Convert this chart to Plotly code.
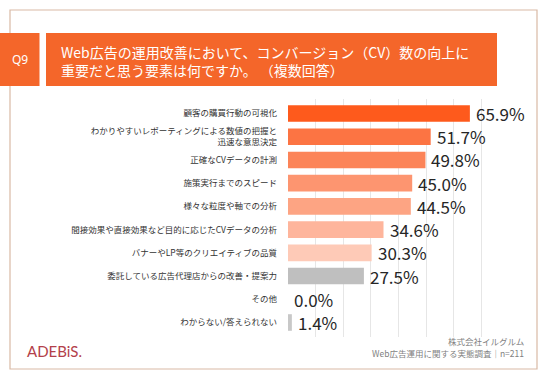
import plotly.graph_objects as go

categories = [
    "顧客の購買行動の可視化",
    "わかりやすいレポーティングによる数値の把握と<br>迅速な意思決定",
    "正確なCVデータの計測",
    "施策実行までのスピード",
    "様々な粒度や軸での分析",
    "間接効果や直接効果など目的に応じたCVデータの分析",
    "バナーやLP等のクリエイティブの品質",
    "委託している広告代理店からの改善・提案力",
    "その他",
    "わからない/答えられない",
]
values = [65.9, 51.7, 49.8, 45.0, 44.5, 34.6, 30.3, 27.5, 0.0, 1.4]
bar_colors = ["#FE5A1C", "#FC7443", "#FC8458", "#FD9570", "#FDA483",
              "#FEB59C", "#FECAB7", "#BFBFBF", "#BFBFBF", "#C8C8C8"]

W, H = 547, 378
L, R, T, B = 288, 52, 99, 41
PW, PH = W - L - R, H - T - B
JP = "Noto Sans CJK JP"


def px(x):
    return (x - L) / PW


def py(y):
    return (H - B - y) / PH


fig = go.Figure()
fig.add_trace(go.Bar(
    x=values, y=categories, orientation="h",
    marker=dict(color=bar_colors, line=dict(width=0)),
    hoverinfo="skip",
))

annotations = []
for c, v in zip(categories, values):
    annotations.append(dict(
        x=v, y=c, xref="x", yref="y", text=f"{v:.1f}%", showarrow=False,
        xanchor="left", yanchor="middle", xshift=4,
        font=dict(family=JP, size=17, color="#262626"),
    ))

shapes = [
    dict(type="rect", xref="paper", yref="paper",
         x0=px(10), x1=px(537), y0=py(369), y1=py(10),
         line=dict(color="#D9B9A5", width=1.2), fillcolor="rgba(0,0,0,0)", layer="below"),
    dict(type="rect", xref="paper", yref="paper",
         x0=px(0), x1=px(39.5), y0=py(86), y1=py(33),
         line=dict(width=0), fillcolor="#F4662A"),
    dict(type="rect", xref="paper", yref="paper",
         x0=px(46), x1=px(497), y0=py(86), y1=py(33),
         line=dict(width=0), fillcolor="#F4662A"),
]

annotations += [
    dict(x=px(20), y=py(60), xref="paper", yref="paper", text="Q9", showarrow=False,
         xanchor="center", yanchor="middle", font=dict(family="Noto Sans", size=12, color="white")),
    dict(x=px(59), y=py(61.5), xref="paper", yref="paper",
         text="Web広告の運用改善において、コンバージョン（CV）数の向上に<br>重要だと思う要素は何ですか。 （複数回答）",
         showarrow=False, xanchor="left", yanchor="middle", align="left",
         font=dict(family=JP, size=14, color="white")),
    dict(x=px(25), y=py(351), xref="paper", yref="paper", text="ADEBiS.", showarrow=False,
         xanchor="left", yanchor="middle", font=dict(family="Lato", size=15, color="#B3404A")),
    dict(x=px(526), y=py(340.5), xref="paper", yref="paper", text="株式会社イルグルム",
         showarrow=False, xanchor="right", yanchor="middle",
         font=dict(family=JP, size=8.5, color="#7F7F7F")),
    dict(x=px(526), y=py(352.5), xref="paper", yref="paper", text="Web広告運用に関する実態調査｜n=211",
         showarrow=False, xanchor="right", yanchor="middle",
         font=dict(family=JP, size=8.5, color="#7F7F7F")),
]

fig.update_layout(
    width=W, height=H,
    margin=dict(l=L, r=R, t=T, b=B, pad=0),
    paper_bgcolor="white", plot_bgcolor="white",
    showlegend=False, bargap=0.285,
    font=dict(family=JP),
    xaxis=dict(range=[0, 75], dtick=10, tick0=0, showgrid=True, gridcolor="#E6E6E6",
               gridwidth=1, zeroline=False, showticklabels=False, showline=False,
               fixedrange=True, automargin=False),
    yaxis=dict(autorange="reversed", showgrid=False, showline=False, zeroline=False,
               ticks="", ticklabelstandoff=10, automargin=False, fixedrange=True,
               tickfont=dict(family=JP, size=8.5, color="#333333")),
    shapes=shapes, annotations=annotations,
)

fig.write_html("out.html", config={"displayModeBar": False},
               post_script="document.body.style.margin='0';")
